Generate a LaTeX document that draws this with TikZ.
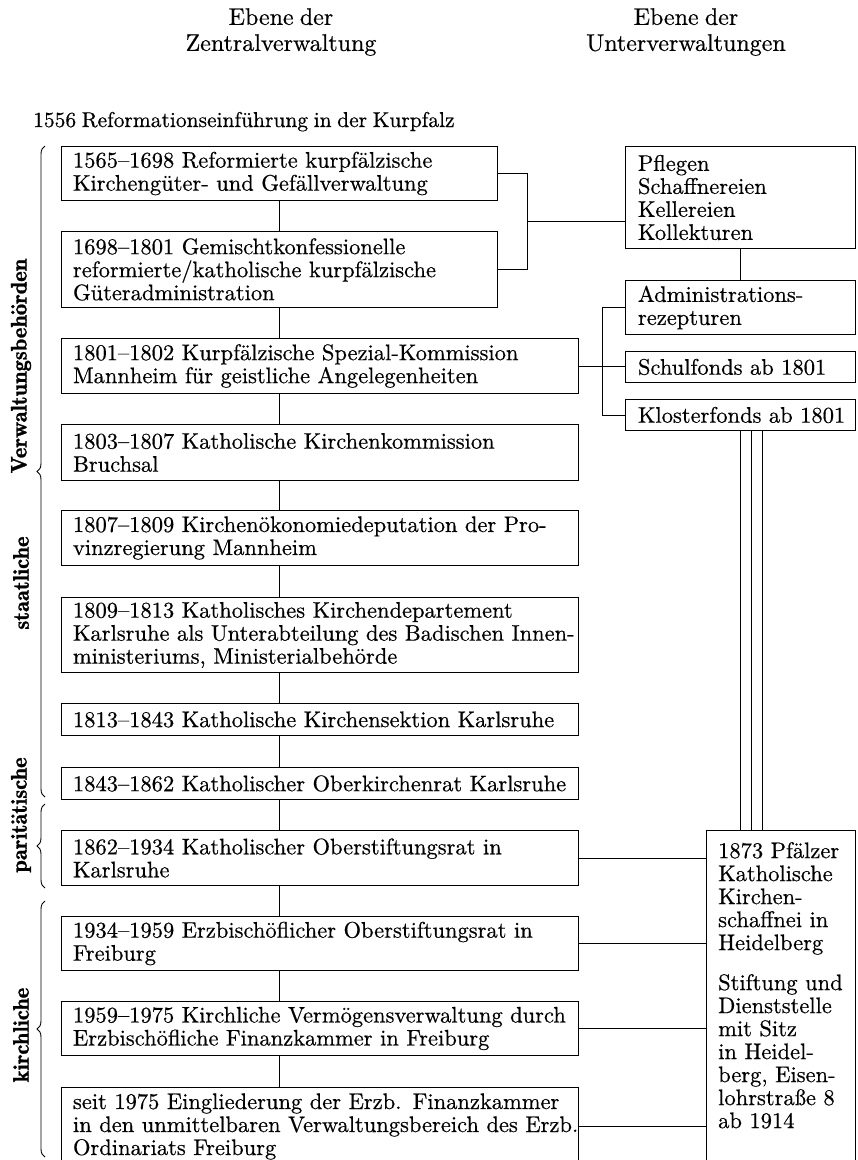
\documentclass[tikz,border=0pt]{standalone}
\usepackage{fontspec}
\setmainfont{lmroman10-regular.otf}[BoldFont=lmroman10-bold.otf, WordSpace=0.78, FakeBold=0.5]
\newfontfamily\demifont{lmromandemi10-regular.otf}[WordSpace=0.78, FakeBold=1.2]
\usetikzlibrary{decorations.pathreplacing}

\newcommand\dgfont{\fontsize{22.5}{23}\selectfont}
% one printed line, never broken inside its box
\newcommand\pl[1]{\mbox{#1}}

\tikzset{
  conn/.style={line width=1pt},
  stage/.style={draw, line width=1pt, anchor=north west, inner xsep=11.5pt,
    inner ysep=0pt, align=left, font=\dgfont},
  narrowstage/.style={stage, minimum width=436pt, text width=413pt},
  widestage/.style={stage, minimum width=517pt, text width=494pt},
  unit/.style={stage, inner xsep=12.5pt, minimum width=230pt, text width=205pt},
  head/.style={align=center, font=\fontsize{24}{26}\selectfont, inner sep=0pt},
  sidelabel/.style={rotate=90, font=\demifont\fontsize{22.5}{23}\selectfont, inner sep=0pt},
  curly/.style={decorate, decoration={brace, amplitude=8pt}, line width=0.9pt},
}

\begin{document}
\begin{tikzpicture}[x=1pt, y=-1pt]
\useasboundingbox (0,0) rectangle (858,1160);

% column headings and starting point
\node[head] (hz) at (281,32) {Ebene der\\Zentralverwaltung};
\node[head] (hu) at (686,32) {Ebene der\\Unterverwaltungen};
\node[anchor=base west, inner sep=0pt, font=\fontsize{21.5}{23}\selectfont] (intro) at (33,127)
  {1556 Reformationseinführung in der Kurpfalz};

% central administration, top to bottom
\node[narrowstage, minimum height=54pt] (b1) at (61,146)
  {\pl{1565–1698 Reformierte kurpfälzische}\\\pl{Kirchengüter- und Gefällverwaltung}};
\node[narrowstage, minimum height=76pt] (b2) at (61,231)
  {\pl{1698–1801 Gemischtkonfessionelle}\\\pl{reformierte/katholische kurpfälzische}\\\pl{Güteradministration}};
\node[widestage, minimum height=55pt] (b3) at (61,338)
  {\pl{1801–1802 Kurpfälzische Spezial-Kommission}\\\pl{Mannheim für geistliche Angelegenheiten}};
\node[widestage, minimum height=56pt] (b4) at (61,424)
  {\pl{1803–1807 Katholische Kirchenkommission}\\\pl{Bruchsal}};
\node[widestage, minimum height=55pt] (b5) at (61,510)
  {\pl{1807–1809 Kirchenökonomiedeputation der Pro-}\\\pl{vinzregierung Mannheim}};
\node[widestage, minimum height=75pt] (b6) at (61,597)
  {\pl{1809–1813 Katholisches Kirchendepartement}\\\pl{Karlsruhe als Unterabteilung des Badischen Innen-}\\\pl{ministeriums, Ministerialbehörde}};
\node[widestage, minimum height=32pt] (b7) at (61,703)
  {\pl{1813–1843 Katholische Kirchensektion Karlsruhe}};
\node[widestage, minimum height=32pt] (b8) at (61,767)
  {\pl{1843–1862 Katholischer Oberkirchenrat Karlsruhe}};
\node[widestage, minimum height=55pt] (b9) at (61,830)
  {\pl{1862–1934 Katholischer Oberstiftungsrat in}\\\pl{Karlsruhe}};
\node[widestage, minimum height=54pt] (b10) at (61,916)
  {\pl{1934–1959 Erzbischöflicher Oberstiftungsrat in}\\\pl{Freiburg}};
\node[widestage, minimum height=54pt] (b11) at (61,1001)
  {\pl{1959–1975 Kirchliche Vermögensverwaltung durch}\\\pl{Erzbischöfliche Finanzkammer in Freiburg}};
\node[widestage, minimum height=78pt] (b12) at (61,1087)
  {\pl{seit 1975 Eingliederung der Erzb. Finanzkammer}\\\pl{in den unmittelbaren Verwaltungsbereich des Erzb.}\\\pl{Ordinariats Freiburg}};

% subordinate administrations
\node[unit, minimum height=102pt] (pfl) at (625,146)
  {\pl{Pflegen}\\\pl{Schaffnereien}\\\pl{Kellereien}\\\pl{Kollekturen}};
\node[unit, minimum height=54pt] (adm) at (625,280)
  {\pl{Administrations-}\\\pl{rezepturen}};
\node[unit, minimum height=31pt] (sch) at (625,351) {\pl{Schulfonds ab 1801}};
\node[unit, minimum height=31pt] (klo) at (625,399) {\pl{Klosterfonds ab 1801}};

\node[anchor=north west, inner xsep=12pt, inner ysep=12pt, align=left,
  text width=131pt, font=\dgfont] (kat) at (706,830)
  {\pl{1873 Pfälzer}\\\pl{Katholische}\\\pl{Kirchen-}\\\pl{schaffnei in}\\\pl{Heidelberg}\\[17pt]\pl{Stiftung und}\\\pl{Dienststelle}\\\pl{mit Sitz}\\\pl{in Heidel-}\\\pl{berg, Eisen-}\\\pl{lohrstraße 8}\\\pl{ab 1914}};
\draw[conn] (kat.north west) rectangle ++(149,340);

% spine of the central administration
\coordinate (spine) at (279,0);
\foreach \a/\b in {b1/b2,b2/b3,b3/b4,b4/b5,b5/b6,b6/b7,b7/b8,b8/b9,b9/b10,b10/b11,b11/b12}
  \draw[conn] (\a.south -| spine) -- (\b.north -| spine);

% 1565–1801 bracket to the local offices
\coordinate (br1) at (527,221);
\draw[conn] (b1.east) -- (b1.east -| br1) -- (b2.east -| br1) -- (b2.east);
\draw[conn] (br1) -- (br1 -| pfl.west);
\draw[conn] (pfl.south) -- (adm.north);

% 1801 bracket to receipts and funds
\coordinate (br2) at (602,0);
\draw[conn] (adm.west) -- (adm.west -| br2) -- (klo.west -| br2) -- (klo.west);
\draw[conn] (b3.east) -- (b3.east -| sch.west);

% triple line down to the Kirchenschaffnei
\foreach \tx in {740,751,762}
  \draw[conn] (klo.south -| \tx,0) -- (kat.north -| \tx,0);

% links to the Kirchenschaffnei
\foreach \b in {b9,b10,b11,b12}
  \draw[conn] (\b.east) -- (\b.east -| kat.west);

% period braces
\draw[curly] (45,797) -- (45,146);
\draw[curly] (45,888) -- (45,804);
\draw[curly] (45,1157) -- (45,901);
\node[sidelabel] (lv) at (21,366) {Verwaltungsbehörden};
\node[sidelabel] (ls) at (21,583) {staatliche};
\node[sidelabel] (lp) at (21,815) {paritätische};
\node[sidelabel] (lk) at (21,1035) {kirchliche};
\end{tikzpicture}
\end{document}
